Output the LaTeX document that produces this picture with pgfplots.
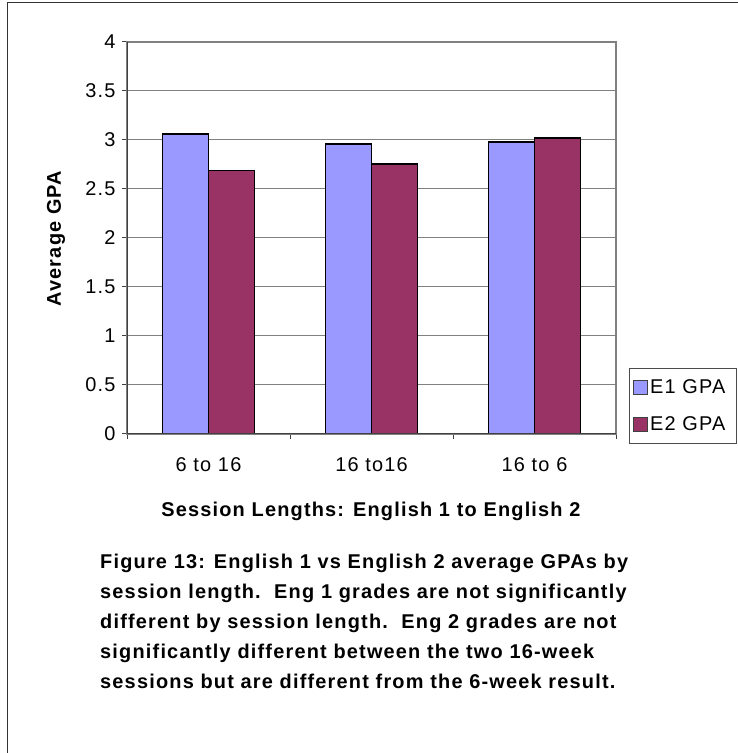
\documentclass[border=0pt]{standalone}
\usepackage{fontspec}
\setmainfont{Liberation Sans}[LetterSpace=6]
\usepackage{pgfplots}
\pgfplotsset{compat=1.18}
\definecolor{eone}{HTML}{9999FF}
\definecolor{etwo}{HTML}{993366}
\definecolor{gridg}{HTML}{808080}
\definecolor{axdark}{HTML}{404040}
\newcommand{\fs}{\fontsize{20}{22}\selectfont}
\begin{document}
\begin{tikzpicture}
\useasboundingbox (0,0) rectangle (738bp,753bp);
\begin{scope}
\clip (0,0) rectangle (738bp,753bp);
\draw[line width=1bp, black!80] (7bp,750bp) rectangle (770bp,-30bp);
\end{scope}
\begin{axis}[
  at={(127bp,319bp)}, anchor=south west,
  scale only axis, width=489bp, height=392bp,
  xmin=-0.5, xmax=2.5, ymin=0, ymax=4,
  ytick={0,0.5,1,1.5,2,2.5,3,3.5,4},
  xtick={0,1,2},
  xticklabels={6 to 16,16 to16,16 to 6},
  minor xtick={-0.5,0.5,1.5,2.5},
  major x tick style={draw=none},
  minor x tick style={draw=axdark, line width=1bp},
  y tick style={draw=axdark, line width=1bp},
  tick align=outside,
  xtick pos=bottom, ytick pos=left,
  major tick length=5bp, minor tick length=5bp,
  ymajorgrids,
  grid style={draw=gridg, line width=1bp},
  axis line style={draw=gridg, line width=1.2bp},
  /pgf/number format/assume math mode=true,
  ticklabel style={font=\fs},
  xticklabel style={yshift=-15bp},
  yticklabel style={xshift=-3bp},
  ylabel={\textbf{Average GPA}},
  ylabel style={font=\fs, at={(axis description cs:-0.1452,0.5)}, anchor=center},
  xlabel={\textbf{Session Lengths: English 1 to English 2}},
  xlabel style={font=\fs, yshift=-24bp},
  ybar=0pt, bar width=46bp,
  legend style={at={(1.0266,0.168)}, anchor=north west, draw=black!70, line width=0.8bp,
    font=\fs, row sep=18bp, inner xsep=4bp, inner ysep=9bp,
    text width=80bp},
  legend cell align=left,
  legend image code/.code={\draw[#1, draw=axdark, line width=0.8bp] (0bp,-7bp) rectangle (14bp,7bp);},
]
\addplot[fill=eone, draw=black, line width=1.5bp] coordinates {(0,3.06) (1,2.96) (2,2.98)};
\addplot[fill=etwo, draw=black, line width=1.5bp] coordinates {(0,2.69) (1,2.755) (2,3.02)};
\legend{E1 GPA, E2 GPA}
\draw[axdark, line width=1.2bp] (rel axis cs:0,1) -- (rel axis cs:0,0) -- (rel axis cs:1,0);
\end{axis}
\begin{scope}[every node/.style={anchor=base west, inner sep=0pt, font=\bfseries\fs}]
\node at (100bp,184bp) {Figure 13: English 1 vs English 2 average GPAs by};
\node at (100bp,154bp) {session length.\ \ Eng 1 grades are not significantly};
\node at (100bp,124bp) {different by session length.\ \ Eng 2 grades are not};
\node at (100bp,94bp) {significantly different between the two 16-week};
\node at (100bp,64bp) {sessions but are different from the 6-week result.};
\end{scope}
\end{tikzpicture}
\end{document}
